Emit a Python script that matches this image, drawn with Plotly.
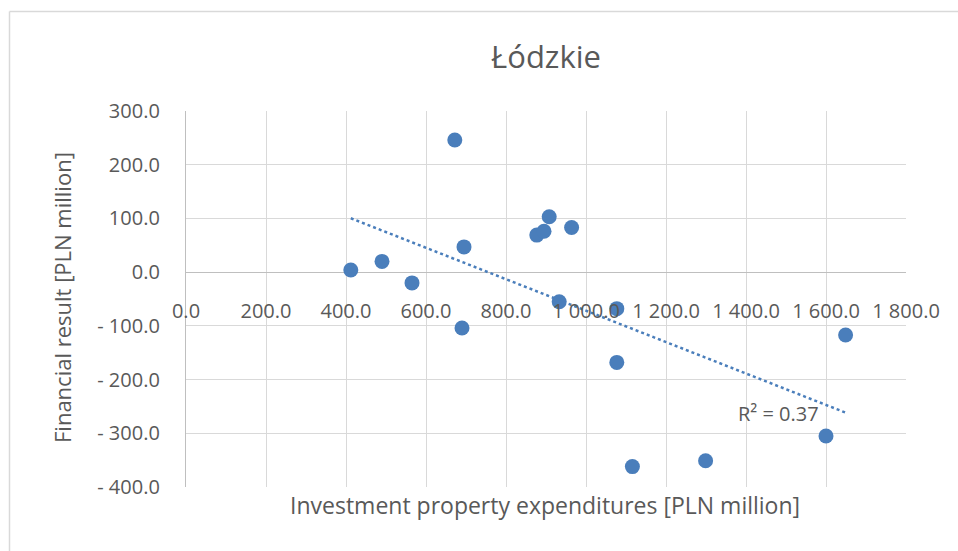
import numpy as np
import plotly.graph_objects as go

# Data
investment = [412, 490, 565, 672, 690, 695, 877, 895, 908, 964, 933, 1077, 1077, 1116, 1299, 1600, 1649]
financial = [4, 20, -20, 246, -104, 47, 69, 76, 103, 83, -55, -68, -168, -362, -351, -305, -117]

x_ticks = [0, 200, 400, 600, 800, 1000, 1200, 1400, 1600, 1800]
x_tick_labels = ["0.0", "200.0", "400.0", "600.0", "800.0", "1 000.0", "1 200.0", "1 400.0", "1 600.0", "1 800.0"]
y_ticks = [300, 200, 100, 0, -100, -200, -300, -400]
y_tick_labels = ["300.0", "200.0", "100.0", "0.0", "- 100.0", "- 200.0", "- 300.0", "- 400.0"]

title_text = "Łódzkie"
x_title = "Investment property expenditures [PLN million]"
y_title = "Financial result [PLN million]"
r2_label = "R² = 0.37"

FONT = "Open Sans"
TXT = "#595959"
BLUE = "#4A7EBB"

xa = np.array(investment, dtype=float)
ya = np.array(financial, dtype=float)
slope, intercept = np.polyfit(xa, ya, 1)
trend_x = [xa.min(), xa.max()]
trend_y = [slope * v + intercept for v in trend_x]

fig = go.Figure()
fig.add_trace(go.Scatter(x=trend_x, y=trend_y, mode="lines",
                         line=dict(color=BLUE, width=2.5, dash="dot"),
                         hoverinfo="skip", showlegend=False))
fig.add_trace(go.Scatter(x=investment, y=financial, mode="markers",
                         marker=dict(color=BLUE, size=15, line=dict(width=0)),
                         showlegend=False))

W, H = 958, 551
PL, PR, PT, PB = 186, 906, 111, 487  # plot area in page pixels
L, T = PL, PT
R, B = W - PR, H - PB
pw, ph = PR - PL, PB - PT

def px_x(p):
    return (p - PL) / pw

def px_y(p):
    return (PB - p) / ph

border = dict(color="#D9D9D9", width=1.5)

fig.update_layout(
    width=W, height=H,
    margin=dict(l=L, r=R, t=T, b=B),
    paper_bgcolor="white", plot_bgcolor="white",
    font=dict(family=FONT, color=TXT, size=20),
    title=dict(text=title_text, x=0.5, xanchor="center", xref="paper",
               y=1 - 57 / H, yanchor="middle", yref="container",
               font=dict(size=31, color=TXT, family=FONT)),
    xaxis=dict(range=[0, 1800], tickvals=x_ticks, ticktext=x_tick_labels,
               showgrid=True, gridcolor="#D9D9D9", gridwidth=1.3,
               zeroline=False, showline=False, ticks="",
               anchor="free", position=px_y(297),
               tickfont=dict(size=20, color=TXT, family=FONT)),
    yaxis=dict(range=[-400, 300], tickvals=y_ticks, ticktext=y_tick_labels,
               showgrid=True, gridcolor="#D9D9D9", gridwidth=1.3,
               zeroline=True, zerolinecolor="#BFBFBF", zerolinewidth=1.3,
               showline=True, linecolor="#BFBFBF", linewidth=1.3,
               ticks="", ticklabelstandoff=21,
               tickfont=dict(size=20, color=TXT, family=FONT)),
    annotations=[
        dict(text=x_title, xref="paper", yref="paper", x=px_x(545), y=px_y(505),
             xanchor="center", yanchor="middle", showarrow=False,
             font=dict(size=23, color=TXT, family=FONT)),
        dict(text=y_title, xref="paper", yref="paper", x=px_x(62), y=px_y(298),
             xanchor="center", yanchor="middle", showarrow=False, textangle=-90,
             font=dict(size=22, color=TXT, family=FONT)),
        dict(text=r2_label, xref="x", yref="y", x=1482, y=-263,
             xanchor="center", yanchor="middle", showarrow=False,
             font=dict(size=20, color=TXT, family=FONT)),
    ],
    shapes=[
        dict(type="line", xref="paper", yref="paper",
             x0=px_x(9.5), x1=px_x(960), y0=px_y(11.5), y1=px_y(11.5),
             line=border, layer="below"),
        dict(type="line", xref="paper", yref="paper",
             x0=px_x(9.5), x1=px_x(9.5), y0=px_y(11.5), y1=px_y(560),
             line=border, layer="below"),
    ],
)

fig.write_html("out.html",
               config={"displayModeBar": False},
               post_script="document.body.style.margin='0';"
                           "document.body.style.overflow='hidden';")
